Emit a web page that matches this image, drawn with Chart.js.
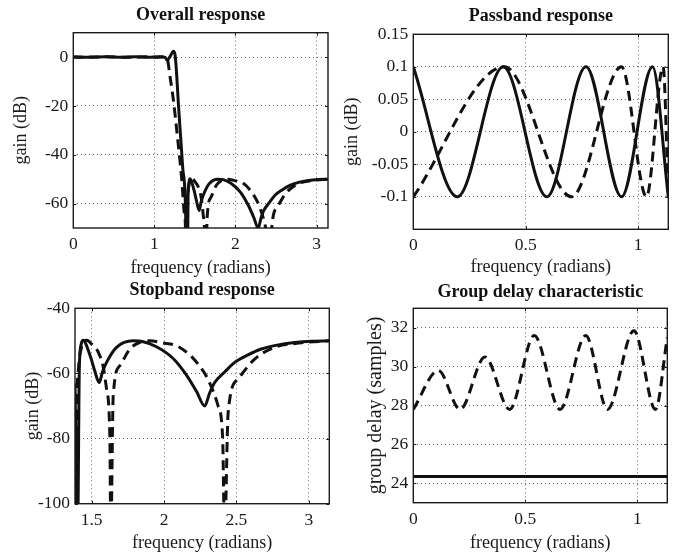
<!DOCTYPE html>
<html><head><meta charset="utf-8">
<script src="https://cdn.jsdelivr.net/npm/chart.js@4.4.0/dist/chart.umd.min.js"></script>
<style>
html,body{margin:0;padding:0;background:#fff;}
#wrap{position:relative;width:681px;height:552px;overflow:hidden;background:#fff;}
canvas{position:absolute;}
</style></head><body>
<div id="wrap">
<canvas id="c1" width="340" height="282" style="left:0px;top:0px;width:340px;height:282px"></canvas>
<canvas id="c2" width="341" height="282" style="left:340px;top:0px;width:341px;height:282px"></canvas>
<canvas id="c3" width="340" height="282" style="left:0px;top:276px;width:340px;height:282px"></canvas>
<canvas id="c4" width="341" height="282" style="left:340px;top:276px;width:341px;height:282px"></canvas>
</div>
<script>
// ---------- data ----------
// Passband (dB) - ripple extremes
const passFreqSolid  = [0, 0.196, 0.400, 0.594, 0.768, 0.926, 1.064, 1.134];
const passGainSolid  = [0.1, -0.1, 0.1, -0.1, 0.1, -0.1, 0.1, -0.1];
const passFreqDashed = [0, 0.405, 0.704, 0.926, 1.037, 1.111, 1.134];
const passGainDashed = [-0.1, 0.1, -0.1, 0.1, -0.1, 0.1, -0.1];
// Transition band (dB)
const transFreqSolid  = [1.155, 1.195, 1.235, 1.255, 1.30, 1.35];
const transGainSolid  = [-1.3, 0.3, 2.4, 1.0, -21, -45.5];
const transFreqDashed = [1.16, 1.194, 1.235, 1.276, 1.338, 1.37];
const transGainDashed = [-0.8, -8.2, -17.7, -30, -50.3, -64];
// Stopband (dB)
const stopFreqSolid  = [1.385, 1.403, 1.415, 1.428, 1.44, 1.489, 1.52, 1.552, 1.575, 1.603, 1.672, 1.787, 1.85, 1.948, 2.063, 2.155, 2.224, 2.281, 2.315, 2.35, 2.42, 2.488, 2.58, 2.672, 2.78, 2.902, 3.02, 3.1416];
const stopGainSolid  = [-63, -110, -58, -51, -49.8, -54.5, -59, -62.8, -59.5, -56.6, -52, -50, -50.2, -51.8, -55.4, -60.5, -65.5, -70, -66, -62.8, -59.5, -56.6, -54.3, -52.5, -51.3, -50.5, -50.1, -50];
const stopFreqDashed = [1.385, 1.39, 1.398, 1.41, 1.43, 1.466, 1.50, 1.546, 1.58, 1.603, 1.626, 1.632, 1.649, 1.695, 1.764, 1.83, 1.90, 1.99, 2.086, 2.17, 2.235, 2.30, 2.373, 2.405, 2.418, 2.443, 2.511, 2.626, 2.764, 2.948, 3.1416];
const stopGainDashed = [-72, -110, -70, -58, -52, -49.8, -51, -53.5, -58, -64.8, -80, -110, -66.9, -57.6, -52.5, -50.5, -50, -50.6, -51.5, -54, -57.1, -61.5, -69.9, -80, -110, -72, -61.7, -55.6, -52, -50.6, -50];
// Group delay (samples)
const gdFreqSolid  = [0, 1.134];
const gdSolid      = [24.35, 24.35];
const gdFreqDashed = [0, 0.112, 0.209, 0.32, 0.43, 0.54, 0.655, 0.77, 0.867, 0.985, 1.081, 1.134];
const gdDashed     = [27.8, 29.8, 27.8, 30.5, 27.8, 31.6, 27.8, 31.6, 27.8, 31.85, 27.8, 31.5];

// Tick values and labels
const overallXTicks = [0, 1, 2, 3];            const overallXLabels = ['0', '1', '2', '3'];
const overallYTicks = [-60, -40, -20, 0];      const overallYLabels = ['-60', '-40', '-20', '0'];
const passXTicks = [0, 0.5, 1];                const passXLabels = ['0', '0.5', '1'];
const passYTicks = [-0.1, -0.05, 0, 0.05, 0.1, 0.15]; const passYLabels = ['-0.1', '-0.05', '0', '0.05', '0.1', '0.15'];
const stopXTicks = [1.5, 2, 2.5, 3];           const stopXLabels = ['1.5', '2', '2.5', '3'];
const stopYTicks = [-100, -80, -60, -40];      const stopYLabels = ['-100', '-80', '-60', '-40'];
const gdXTicks = [0, 0.5, 1];                  const gdXLabels = ['0', '0.5', '1'];
const gdYTicks = [24, 26, 28, 30, 32];         const gdYLabels = ['24', '26', '28', '30', '32'];

// ---------- drawing ----------
const FONT = "'Liberation Serif', 'Times New Roman', serif";
Chart.defaults.font.family = FONT;
Chart.defaults.font.size = 17.5;
Chart.defaults.color = '#1a1a1a';

function pts(xs, ys) { return xs.map((x, i) => ({ x: x, y: ys[i] })); }
const solidStyle = { borderColor: '#111', borderWidth: 3, pointRadius: 0, fill: false, cubicInterpolationMode: 'monotone', clip: 0 };
const dashedStyle = Object.assign({}, solidStyle, { borderDash: [10, 6] });

const framePlugin = {
  id: 'frame',
  afterDatasetsDraw(chart) {
    const ctx = chart.ctx, a = chart.chartArea;
    const xs = chart.scales.x, ys = chart.scales.y;
    ctx.save();
    ctx.strokeStyle = '#1a1a1a';
    ctx.lineWidth = 1;
    ctx.beginPath();
    xs.ticks.forEach(t => {
      const p = Math.round(xs.getPixelForValue(t.value)) + 0.5;
      ctx.moveTo(p, a.bottom); ctx.lineTo(p, a.bottom - 3);
      ctx.moveTo(p, a.top); ctx.lineTo(p, a.top + 3);
    });
    ys.ticks.forEach(t => {
      const p = Math.round(ys.getPixelForValue(t.value)) + 0.5;
      ctx.moveTo(a.left, p); ctx.lineTo(a.left + 3, p);
      ctx.moveTo(a.right, p); ctx.lineTo(a.right - 3, p);
    });
    ctx.stroke();
    ctx.lineWidth = 1.4;
    ctx.strokeRect(a.left, a.top, a.right - a.left, a.bottom - a.top);
    ctx.restore();
  }
};

function makePanel(id, p) {
  new Chart(document.getElementById(id), {
    type: 'line',
    data: { datasets: p.datasets },
    plugins: [framePlugin],
    options: {
      responsive: false, animation: false, devicePixelRatio: 1,
      layout: { padding: { left: 0, right: p.padRight, top: 0, bottom: 0 } },
      plugins: {
        legend: { display: false }, tooltip: { enabled: false },
        title: { display: true, text: p.title, fullSize: false, color: '#111',
                 font: { size: 18, weight: 'bold', family: FONT },
                 padding: { top: p.titleTop, bottom: p.titleBottom } }
      },
      scales: {
        x: {
          type: 'linear', min: p.xMin, max: p.xMax,
          afterFit: s => { s.height = p.xAxisH; },
          afterBuildTicks: s => { s.ticks = p.xTicks.map(v => ({ value: v })); },
          ticks: { callback: (v, i) => p.xLabels[i], padding: 6, maxRotation: 0, autoSkip: false },
          grid: { drawTicks: false, color: '#666', lineWidth: 1 },
          border: { display: false, dash: [1, 3] },
          title: { display: true, text: 'frequency (radians)', font: { size: 18 }, padding: { top: 0, bottom: p.xTitleBottom } }
        },
        y: {
          type: 'linear', min: p.yMin, max: p.yMax,
          afterFit: s => { s.width = p.yAxisW; },
          afterBuildTicks: s => { s.ticks = p.yTicks.map(v => ({ value: v })); },
          ticks: { callback: (v, i) => p.yLabels[i], padding: 5, autoSkip: false },
          grid: { drawTicks: false, color: '#666', lineWidth: 1 },
          border: { display: false, dash: [1, 3] },
          title: { display: true, text: p.yTitle, font: { size: p.yTitleSize }, padding: { top: p.yTitleTop, bottom: 0 } }
        }
      }
    }
  });
}

makePanel('c1', {
  title: 'Overall response', yTitle: 'gain (dB)', yTitleSize: 18,
  xMin: 0, xMax: Math.PI, yMin: -70, yMax: 10,
  xTicks: overallXTicks, xLabels: overallXLabels, yTicks: overallYTicks, yLabels: overallYLabels,
  padRight: 12, yAxisW: 73.3, xAxisH: 54, titleTop: 4.4, titleBottom: 6.7, xTitleBottom: 3, yTitleTop: 10.2,
  datasets: [
    Object.assign({ data: pts(passFreqDashed.concat(transFreqDashed, stopFreqDashed), passGainDashed.concat(transGainDashed, stopGainDashed)) }, dashedStyle),
    Object.assign({ data: pts(passFreqSolid.concat(transFreqSolid, stopFreqSolid), passGainSolid.concat(transGainSolid, stopGainSolid)) }, solidStyle)
  ]
});
makePanel('c2', {
  title: 'Passband response', yTitle: 'gain (dB)', yTitleSize: 18,
  xMin: 0, xMax: 1.134, yMin: -0.15, yMax: 0.15,
  xTicks: passXTicks, xLabels: passXLabels, yTicks: passYTicks, yLabels: passYLabels,
  padRight: 12.7, yAxisW: 73.3, xAxisH: 52.7, titleTop: 5.2, titleBottom: 7.5, xTitleBottom: 3.7, yTitleTop: 1.2,
  datasets: [
    Object.assign({ data: pts(passFreqDashed, passGainDashed) }, dashedStyle),
    Object.assign({ data: pts(passFreqSolid, passGainSolid) }, solidStyle)
  ]
});
makePanel('c3', {
  title: 'Stopband response', yTitle: 'gain (dB)', yTitleSize: 18,
  xMin: 1.385, xMax: Math.PI, yMin: -100, yMax: -40,
  xTicks: stopXTicks, xLabels: stopXLabels, yTicks: stopYTicks, yLabels: stopYLabels,
  padRight: 10.7, yAxisW: 75, xAxisH: 54.3, titleTop: 3.8, titleBottom: 6.9, xTitleBottom: 4.2, yTitleTop: 22.2,
  datasets: [
    Object.assign({ data: pts(stopFreqDashed, stopGainDashed) }, dashedStyle),
    Object.assign({ data: pts(stopFreqSolid, stopGainSolid) }, solidStyle)
  ]
});
makePanel('c4', {
  title: 'Group delay characteristic', yTitle: 'group delay (samples)', yTitleSize: 20,
  xMin: 0, xMax: 1.134, yMin: 23, yMax: 33,
  xTicks: gdXTicks, xLabels: gdXLabels, yTicks: gdYTicks, yLabels: gdYLabels,
  padRight: 13.7, yAxisW: 73.3, xAxisH: 55.3, titleTop: 5.2, titleBottom: 5.5, xTitleBottom: 3.7, yTitleTop: 24,
  datasets: [
    Object.assign({ data: pts(gdFreqDashed, gdDashed) }, dashedStyle),
    Object.assign({ data: pts(gdFreqSolid, gdSolid) }, solidStyle)
  ]
});
</script>
</body></html>
